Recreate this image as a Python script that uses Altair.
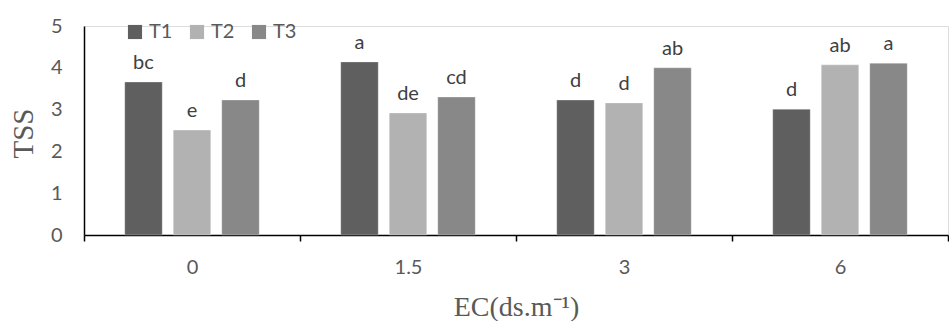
import altair as alt
import pandas as pd

categories = ["0", "1.5", "3", "6"]
series = ["T1", "T2", "T3"]
t1 = [3.66, 4.14, 3.23, 3.01]
t2 = [2.51, 2.92, 3.16, 4.07]
t3 = [3.23, 3.30, 4.00, 4.11]
letters_t1 = ["bc", "a", "d", "d"]
letters_t2 = ["e", "de", "d", "ab"]
letters_t3 = ["d", "cd", "ab", "a"]
colors = ["#5f5f5f", "#b2b2b2", "#888888"]

rows = []
for vals, lets, s in [(t1, letters_t1, "T1"), (t2, letters_t2, "T2"), (t3, letters_t3, "T3")]:
    for c, v, l in zip(categories, vals, lets):
        rows.append({"EC": c, "Treatment": s, "TSS": v, "Letter": l})
df = pd.DataFrame(rows)

LABEL_FONT = "Lato"
GREY = "#595959"

x = alt.X(
    "EC:N",
    sort=categories,
    scale=alt.Scale(paddingInner=0, paddingOuter=0),
    axis=alt.Axis(
        title="EC(ds.m⁻¹)",
        labelAngle=0,
        labelFont=LABEL_FONT,
        labelFontSize=20,
        labelColor=GREY,
        labelPadding=16,
        tickBand="extent",
        tickSize=6,
        tickColor="#000000",
        tickWidth=1.5,
        domainColor="#000000",
        domainWidth=1.5,
        titleFont="Liberation Serif",
        titleFontSize=28,
        titleFontWeight="normal",
        titleColor=GREY,
        titleY=80,
        titleBaseline="alphabetic",
    ),
)
xoff = alt.XOffset(
    "Treatment:N",
    sort=series,
    scale=alt.Scale(paddingInner=0.227, paddingOuter=0.84),
)
y = alt.Y(
    "TSS:Q",
    scale=alt.Scale(domain=[0, 5], nice=False),
    axis=alt.Axis(
        title="TSS",
        values=[0, 1, 2, 3, 4, 5],
        ticks=False,
        grid=False,
        labelFont=LABEL_FONT,
        labelFontSize=20,
        labelColor=GREY,
        labelPadding=22,
        domainColor="#000000",
        domainWidth=1.5,
        titleFont="Liberation Serif",
        titleFontSize=29,
        titleFontWeight="normal",
        titleColor=GREY,
        titleX=-61,
        titleY=107,
        titleAngle=-90,
        titleAlign="center",
        titleBaseline="middle",
    ),
)

color = alt.Color(
    "Treatment:N",
    sort=series,
    scale=alt.Scale(domain=series, range=colors),
    legend=alt.Legend(
        title=None,
        orient="none",
        direction="horizontal",
        legendX=41,
        legendY=-4,
        symbolType="square",
        symbolSize=200,
        symbolStrokeWidth=0,
        labelFont=LABEL_FONT,
        labelFontSize=20,
        labelColor=GREY,
        labelOffset=4,
        columnPadding=14,
        padding=0,
    ),
)

bars = alt.Chart(df).mark_bar(stroke="white", strokeOpacity=0.3, strokeWidth=1).encode(
    x=x, xOffset=xoff, y=y, color=color
)
text = alt.Chart(df).mark_text(
    dy=-13, baseline="alphabetic", font=LABEL_FONT, fontSize=20, color="#404040"
).encode(
    x=alt.X("EC:N", sort=categories),
    xOffset=alt.XOffset("Treatment:N", sort=series),
    y="TSS:Q",
    text="Letter:N",
)

chart = (
    alt.layer(bars, text)
    .properties(
        width=864,
        height=209,
        autosize=alt.AutoSizeParams(type="none"),
        padding={"left": 84, "top": 26, "right": 1, "bottom": 86},
    )
    .configure_view(stroke=None)
    .configure(background="white")
)

chart.save("out.html", embed_options={"renderer": "svg", "actions": False})
